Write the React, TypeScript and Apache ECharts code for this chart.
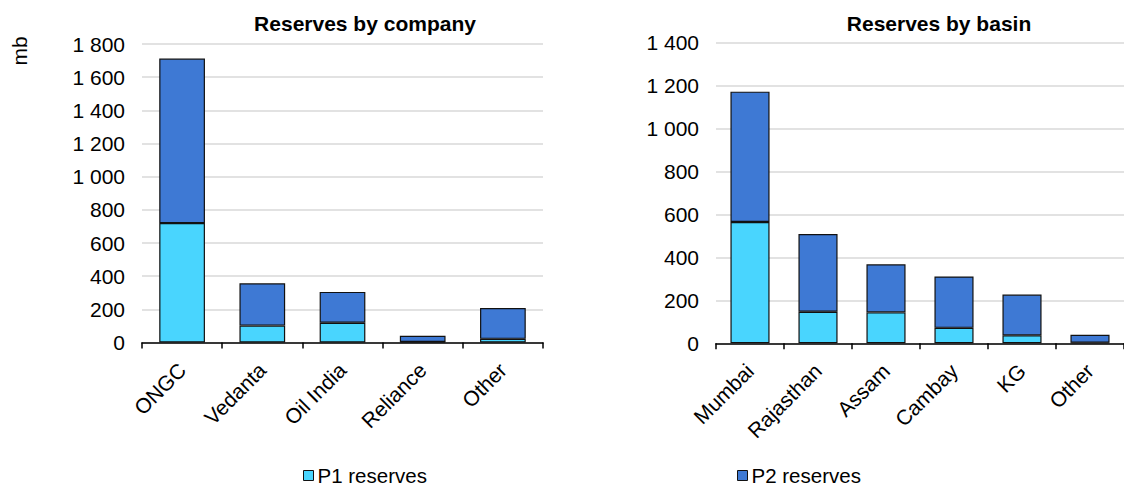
import React, { useEffect, useRef } from "react";
import * as echarts from "echarts";

const companies = ["ONGC", "Vedanta", "Oil India", "Reliance", "Other"];
const companyP1 = [720, 102, 119, 3, 22];
const companyP2 = [992, 255, 186, 37, 186];

const basins = ["Mumbai", "Rajasthan", "Assam", "Cambay", "KG", "Other"];
const basinP1 = [565, 147, 144, 72, 37, 3];
const basinP2 = [607, 362, 224, 239, 190, 37];

const seriesNames = ["P1 reserves", "P2 reserves"];
const P1_COLOR = "#49D5FE";
const P2_COLOR = "#3E79D4";
const FONT = "Liberation Sans, Arial, sans-serif";
const FS = 21;

const fmt = (v: number) =>
  v >= 1000 ? Math.floor(v / 1000) + " " + String(v % 1000).padStart(3, "0") : String(v);

export default function App() {
  const ref = useRef<HTMLDivElement>(null);
  useEffect(() => {
    if (!ref.current) return;
    const chart = echarts.init(ref.current, undefined, { renderer: "svg" });
    const xAxisCommon = {
      type: "category" as const,
      axisLine: { lineStyle: { color: "#000", width: 1.5 } },
      axisTick: { show: true, length: 6, lineStyle: { color: "#000", width: 1.5 } },
      axisLabel: {
        rotate: 45,
        interval: 0,
        fontSize: FS,
        color: "#000",
        fontFamily: FONT,
        margin: 24,
      },
    };
    const yAxisCommon = {
      type: "value" as const,
      min: 0,
      interval: 200,
      axisLine: { show: false },
      axisTick: { show: false },
      splitLine: { lineStyle: { color: "#D9D9D9", width: 1.5 } },
      axisLabel: { fontSize: FS, color: "#000", fontFamily: FONT, margin: 17, formatter: fmt },
    };
    const barStyle = (c: string) => ({ color: c, borderColor: "#111", borderWidth: 1.2 });
    const legendCommon = {
      icon: "rect",
      itemWidth: 10,
      itemHeight: 10,
      itemGap: 0,
      padding: 0,
      itemStyle: { borderColor: "#111", borderWidth: 1 },
      textStyle: {
        fontSize: 20.5,
        color: "#000",
        fontFamily: FONT,
        padding: [0, 0, 0, -1],
      },
      selectedMode: false,
    };
    chart.setOption({
      animation: false,
      title: [
        {
          text: "Reserves by company",
          left: 360,
          top: 8,
          textAlign: "center",
          textStyle: { fontSize: FS, fontWeight: "bold", color: "#000", fontFamily: FONT },
        },
        {
          text: "Reserves by basin",
          left: 934,
          top: 8,
          textAlign: "center",
          textStyle: { fontSize: FS, fontWeight: "bold", color: "#000", fontFamily: FONT },
        },
      ],
      graphic: [
        {
          type: "text",
          x: 19,
          y: 51,
          rotation: Math.PI / 2,
          style: {
            text: "mb",
            fontSize: FS,
            fontFamily: FONT,
            fill: "#000",
            align: "center",
            verticalAlign: "middle",
          },
        },
      ],
      legend: [
        { ...legendCommon, data: [seriesNames[0]], left: 303, top: 465 },
        { ...legendCommon, data: [seriesNames[1]], left: 737, top: 465 },
      ],
      grid: [
        { left: 142, top: 44, width: 401, height: 298.5 },
        { left: 716, top: 42.7, width: 412, height: 300.6 },
      ],
      xAxis: [
        { ...xAxisCommon, gridIndex: 0, data: companies },
        { ...xAxisCommon, gridIndex: 1, data: basins },
      ],
      yAxis: [
        { ...yAxisCommon, gridIndex: 0, max: 1800 },
        { ...yAxisCommon, gridIndex: 1, max: 1400 },
      ],
      series: [
        {
          name: seriesNames[0],
          type: "bar",
          stack: "L",
          xAxisIndex: 0,
          yAxisIndex: 0,
          data: companyP1,
          barCategoryGap: "43%",
          itemStyle: barStyle(P1_COLOR),
        },
        {
          name: seriesNames[1],
          type: "bar",
          stack: "L",
          xAxisIndex: 0,
          yAxisIndex: 0,
          data: companyP2,
          barCategoryGap: "43%",
          itemStyle: barStyle(P2_COLOR),
        },
        {
          name: seriesNames[0],
          type: "bar",
          stack: "R",
          xAxisIndex: 1,
          yAxisIndex: 1,
          data: basinP1,
          barCategoryGap: "42.5%",
          itemStyle: barStyle(P1_COLOR),
        },
        {
          name: seriesNames[1],
          type: "bar",
          stack: "R",
          xAxisIndex: 1,
          yAxisIndex: 1,
          data: basinP2,
          barCategoryGap: "42.5%",
          itemStyle: barStyle(P2_COLOR),
        },
      ],
    });
    return () => chart.dispose();
  }, []);
  return (
    <div
      ref={ref}
      style={{ position: "fixed", left: 0, top: 0, width: 1124, height: 488, background: "#fff" }}
    />
  );
}
